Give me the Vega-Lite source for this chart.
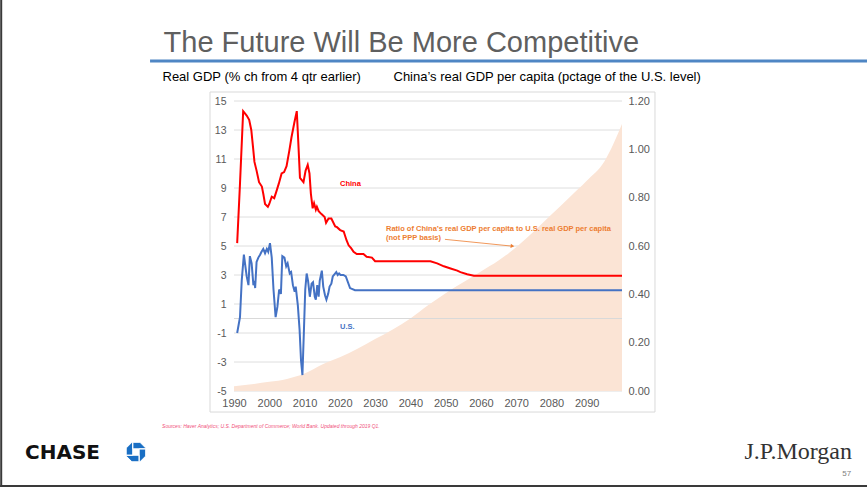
{
  "$schema": "https://vega.github.io/schema/vega-lite/v6.json",
  "autosize": {"type": "none"},
  "width": 388,
  "height": 290,
  "padding": {"left": 234, "top": 101, "right": 245, "bottom": 96},
  "background": "white",
  "config": {"view": {"stroke": null}},
  "datasets": {
    "gdp": [
      {"series":"China","year":1990.9,"value":5.2},{"series":"China","year":1991.7,"value":9.3},{"series":"China","year":1992.6,"value":14.3},{"series":"China","year":1993.6,"value":14.0},{"series":"China","year":1994.3,"value":13.7},{"series":"China","year":1994.9,"value":13.0},{"series":"China","year":1995.4,"value":11.8},{"series":"China","year":1995.8,"value":10.8},{"series":"China","year":1996.4,"value":10.2},{"series":"China","year":1997.1,"value":9.4},{"series":"China","year":1997.9,"value":9.1},{"series":"China","year":1998.3,"value":8.6},{"series":"China","year":1998.8,"value":7.9},{"series":"China","year":1999.6,"value":7.7},{"series":"China","year":2000.0,"value":7.9},{"series":"China","year":2000.7,"value":8.4},{"series":"China","year":2001.4,"value":8.3},{"series":"China","year":2002.0,"value":8.75},{"series":"China","year":2002.7,"value":9.3},{"series":"China","year":2003.5,"value":10.0},{"series":"China","year":2004.2,"value":10.1},{"series":"China","year":2004.9,"value":10.5},{"series":"China","year":2005.7,"value":11.6},{"series":"China","year":2006.3,"value":12.5},{"series":"China","year":2007.1,"value":13.5},{"series":"China","year":2007.8,"value":14.3},{"series":"China","year":2008.2,"value":12.3},{"series":"China","year":2008.7,"value":9.7},{"series":"China","year":2009.7,"value":9.4},{"series":"China","year":2010.3,"value":10.2},{"series":"China","year":2010.9,"value":10.6},{"series":"China","year":2011.4,"value":10.0},{"series":"China","year":2011.8,"value":8.6},{"series":"China","year":2012.3,"value":7.6},{"series":"China","year":2012.7,"value":7.95},{"series":"China","year":2013.2,"value":7.5},{"series":"China","year":2013.5,"value":7.7},{"series":"China","year":2014.0,"value":7.4},{"series":"China","year":2014.8,"value":7.2},{"series":"China","year":2015.7,"value":7.0},{"series":"China","year":2016.1,"value":6.6},{"series":"China","year":2016.8,"value":6.9},{"series":"China","year":2017.6,"value":6.9},{"series":"China","year":2018.7,"value":6.35},{"series":"China","year":2019.2,"value":6.3},{"series":"China","year":2020.1,"value":6.1},{"series":"China","year":2021.1,"value":6.0},{"series":"China","year":2021.9,"value":5.4},{"series":"China","year":2022.5,"value":5.05},{"series":"China","year":2023.2,"value":4.85},{"series":"China","year":2023.9,"value":4.6},{"series":"China","year":2024.8,"value":4.45},{"series":"China","year":2026.7,"value":4.45},{"series":"China","year":2027.6,"value":4.26},{"series":"China","year":2029.1,"value":4.2},{"series":"China","year":2030.0,"value":3.95},{"series":"China","year":2045.7,"value":3.95},{"series":"China","year":2047.6,"value":3.8},{"series":"China","year":2049.5,"value":3.6},{"series":"China","year":2051.4,"value":3.45},{"series":"China","year":2053.3,"value":3.3},{"series":"China","year":2054.2,"value":3.2},{"series":"China","year":2056.1,"value":3.05},{"series":"China","year":2058.0,"value":2.95},{"series":"China","year":2100,"value":2.95},
      {"series":"U.S.","year":1990.9,"value":-1.0},{"series":"U.S.","year":1991.7,"value":0.1},{"series":"U.S.","year":1992.2,"value":2.65},{"series":"U.S.","year":1992.8,"value":4.4},{"series":"U.S.","year":1993.6,"value":2.9},{"series":"U.S.","year":1994.1,"value":2.3},{"series":"U.S.","year":1994.5,"value":4.3},{"series":"U.S.","year":1995.0,"value":3.8},{"series":"U.S.","year":1995.5,"value":2.3},{"series":"U.S.","year":1995.8,"value":2.6},{"series":"U.S.","year":1996.0,"value":2.1},{"series":"U.S.","year":1996.4,"value":3.9},{"series":"U.S.","year":1996.9,"value":4.2},{"series":"U.S.","year":1997.4,"value":4.4},{"series":"U.S.","year":1997.8,"value":4.6},{"series":"U.S.","year":1998.3,"value":4.8},{"series":"U.S.","year":1998.8,"value":4.5},{"series":"U.S.","year":1999.3,"value":4.8},{"series":"U.S.","year":1999.7,"value":4.6},{"series":"U.S.","year":2000.2,"value":5.2},{"series":"U.S.","year":2000.7,"value":4.2},{"series":"U.S.","year":2001.2,"value":2.0},{"series":"U.S.","year":2001.8,"value":0.1},{"series":"U.S.","year":2002.3,"value":0.8},{"series":"U.S.","year":2002.8,"value":2.0},{"series":"U.S.","year":2003.3,"value":1.7},{"series":"U.S.","year":2003.7,"value":4.3},{"series":"U.S.","year":2004.3,"value":4.2},{"series":"U.S.","year":2004.8,"value":3.6},{"series":"U.S.","year":2005.2,"value":3.8},{"series":"U.S.","year":2005.8,"value":3.1},{"series":"U.S.","year":2006.2,"value":3.2},{"series":"U.S.","year":2006.7,"value":2.3},{"series":"U.S.","year":2007.2,"value":1.85},{"series":"U.S.","year":2007.5,"value":2.2},{"series":"U.S.","year":2008.1,"value":0.9},{"series":"U.S.","year":2008.6,"value":-0.8},{"series":"U.S.","year":2009.0,"value":-2.9},{"series":"U.S.","year":2009.4,"value":-3.9},{"series":"U.S.","year":2009.8,"value":-1.0},{"series":"U.S.","year":2010.2,"value":2.0},{"series":"U.S.","year":2010.6,"value":3.1},{"series":"U.S.","year":2011.0,"value":2.6},{"series":"U.S.","year":2011.5,"value":1.5},{"series":"U.S.","year":2012.0,"value":2.4},{"series":"U.S.","year":2012.4,"value":2.5},{"series":"U.S.","year":2012.9,"value":1.5},{"series":"U.S.","year":2013.2,"value":1.3},{"series":"U.S.","year":2013.6,"value":2.3},{"series":"U.S.","year":2014.0,"value":1.5},{"series":"U.S.","year":2014.3,"value":2.6},{"series":"U.S.","year":2014.9,"value":3.3},{"series":"U.S.","year":2015.3,"value":2.2},{"series":"U.S.","year":2015.8,"value":1.6},{"series":"U.S.","year":2016.2,"value":1.3},{"series":"U.S.","year":2016.7,"value":1.7},{"series":"U.S.","year":2017.1,"value":2.2},{"series":"U.S.","year":2017.6,"value":2.4},{"series":"U.S.","year":2018.0,"value":2.9},{"series":"U.S.","year":2019.0,"value":3.2},{"series":"U.S.","year":2019.4,"value":3.0},{"series":"U.S.","year":2019.8,"value":3.1},{"series":"U.S.","year":2020.2,"value":3.0},{"series":"U.S.","year":2021.0,"value":3.0},{"series":"U.S.","year":2021.7,"value":2.9},{"series":"U.S.","year":2022.9,"value":2.1},{"series":"U.S.","year":2024.3,"value":1.95},{"series":"U.S.","year":2100,"value":1.95}
    ],
    "ratio": [
      {"year":1990,"ratio":0.02},{"year":1995,"ratio":0.028},{"year":2000,"ratio":0.038},{"year":2005,"ratio":0.05},{"year":2010,"ratio":0.072},{"year":2015,"ratio":0.11},{"year":2020,"ratio":0.14},{"year":2025,"ratio":0.175},{"year":2030,"ratio":0.215},{"year":2035,"ratio":0.255},{"year":2040,"ratio":0.3},{"year":2045,"ratio":0.355},{"year":2050,"ratio":0.405},{"year":2055,"ratio":0.45},{"year":2060,"ratio":0.495},{"year":2065,"ratio":0.54},{"year":2070,"ratio":0.595},{"year":2075,"ratio":0.66},{"year":2080,"ratio":0.73},{"year":2085,"ratio":0.8},{"year":2090,"ratio":0.87},{"year":2095,"ratio":0.95},{"year":2100,"ratio":1.105}
    ],
    "labels": [
      {"kind":"title","year":1970.04,"value":18.41,"text":"The Future Will Be More Competitive"},
      {"kind":"china","year":2020.05,"value":9.28,"text":"China"},
      {"kind":"us","year":2020.05,"value":-0.57,"text":"U.S."},
      {"kind":"ratio","year":2033.1,"value":6.15,"text":"Ratio of China’s real GDP per capita to U.S. real GDP per capita"},
      {"kind":"ratio","year":2033.1,"value":5.53,"text":"(not PPP basis)"},
      {"kind":"source","year":1969.6,"value":-7.55,"text":"Sources: Haver Analytics; U.S. Department of Commerce; World Bank. Updated through 2019 Q1."},
      {"kind":"chase","year":1930.75,"value":-9.69,"text":"CHASE"},
      {"kind":"jpm","year":2165.2,"value":-9.69,"text":"J.P.Morgan"},
      {"kind":"page","year":2165.0,"value":-10.86,"text":"57"}
    ],
    "grid": [
      {"year":1990,"year2":2100,"value":-5},{"year":1990,"year2":2100,"value":-3},{"year":1990,"year2":2100,"value":-1},{"year":1990,"year2":2100,"value":1},{"year":1990,"year2":2100,"value":3},{"year":1990,"year2":2100,"value":5},{"year":1990,"year2":2100,"value":7},{"year":1990,"year2":2100,"value":9},{"year":1990,"year2":2100,"value":11},{"year":1990,"year2":2100,"value":13},{"year":1990,"year2":2100,"value":15}
    ],
    "rules": [
      {"kind":"blue","year":1966.2,"year2":2175,"value":17.76,"value2":17.76},
      {"kind":"arrow","year":2049.8,"year2":2068.5,"value":5.46,"value2":5.0},
      {"kind":"border","year":1924.0,"year2":1924.0,"value":21.97,"value2":-11.62},
      {"kind":"border","year":1923.7,"year2":2175,"value":-11.55,"value2":-11.55},
      {"kind":"zero","year":1990,"year2":2100,"value":0,"value2":0}
    ],
    "box": [{"year":1983.2,"year2":2109.35,"value":15.62,"value2":-6.45}],
    "points": [
      {"kind":"arrowhead","year":2068.95,"value":4.99},
      {"kind":"logo","year":1962.2,"value":-9.21}
    ]
  },
  "encoding": {
    "x": {"field": "year", "type": "quantitative", "scale": {"domain": [1990, 2100], "nice": false, "zero": false},
      "axis": {"orient": "bottom", "values": [1990,2000,2010,2020,2030,2040,2050,2060,2070,2080,2090], "labelExpr": "'' + datum.value", "labelOverlap": false, "labelFlush": false, "title": null, "domain": false, "ticks": false, "grid": false, "labelFont": "Liberation Sans", "labelFontSize": 11, "labelColor": "#595959", "labelPadding": 6}},
    "y": {"field": "value", "type": "quantitative", "scale": {"domain": [-5, 15], "nice": false, "zero": false}, "axis": null}
  },
  "layer": [
    {
      "data": {"name": "grid"},
      "mark": {"type": "rule", "color": "#dedede", "strokeWidth": 1},
      "encoding": {"x2": {"field": "year2"}}
    },
    {
      "data": {"name": "ratio"},
      "mark": {"type": "area", "color": "#fbe4d5", "opacity": 1, "interpolate": "monotone"},
      "encoding": {
        "y": {"field": "ratio", "type": "quantitative", "scale": {"domain": [0, 1.2], "nice": false},
          "axis": {"orient": "right", "values": [0,0.2,0.4,0.6,0.8,1,1.2], "format": ".2f", "title": "China’s real GDP per capita (pctage of the U.S. level)", "titleAngle": 0, "titleAlign": "left", "titleBaseline": "alphabetic", "titleX": -229, "titleY": -21, "titleFont": "Liberation Sans", "titleFontSize": 13, "titleFontWeight": "normal", "titleColor": "#000000", "domain": false, "ticks": false, "grid": false, "labelFont": "Liberation Sans", "labelFontSize": 11, "labelColor": "#595959", "labelPadding": 6}}
      }
    },
    {
      "data": {"name": "box"},
      "mark": {"type": "rect", "fill": null, "fillOpacity": 0, "stroke": "#d9d9d9", "strokeWidth": 1},
      "encoding": {"x2": {"field": "year2"}, "y2": {"field": "value2"}}
    },
    {
      "data": {"name": "rules"},
      "transform": [{"filter": "datum.kind === 'zero'"}],
      "mark": {"type": "rule", "color": "#d9d9d9", "strokeWidth": 1},
      "encoding": {"x2": {"field": "year2"}, "y2": {"field": "value2"}}
    },
    {
      "data": {"name": "gdp"},
      "mark": {"type": "line", "strokeWidth": 2},
      "encoding": {
        "y": {"field": "value", "type": "quantitative", "scale": {"domain": [-5, 15], "nice": false, "zero": false},
          "axis": {"orient": "left", "values": [-5,-3,-1,1,3,5,7,9,11,13,15], "labelExpr": "'' + datum.value", "title": "Real GDP (% ch from 4 qtr earlier)", "titleAngle": 0, "titleAlign": "left", "titleBaseline": "alphabetic", "titleX": -72, "titleY": -21, "titleFont": "Liberation Sans", "titleFontSize": 13, "titleFontWeight": "normal", "titleColor": "#000000", "domain": false, "ticks": false, "grid": false, "labelFont": "Liberation Sans", "labelFontSize": 10.5, "labelColor": "#595959", "labelPadding": 8}},
        "color": {"field": "series", "type": "nominal", "scale": {"domain": ["China", "U.S."], "range": ["#ff0000", "#4472c4"]}, "legend": null}
      }
    },
    {
      "data": {"name": "rules"},
      "transform": [{"filter": "datum.kind === 'blue'"}],
      "mark": {"type": "rule", "color": "#4f86c4", "strokeWidth": 3},
      "encoding": {"x2": {"field": "year2"}, "y2": {"field": "value2"}}
    },
    {
      "data": {"name": "rules"},
      "transform": [{"filter": "datum.kind === 'arrow'"}],
      "mark": {"type": "rule", "color": "#ed7d31", "strokeWidth": 0.8},
      "encoding": {"x2": {"field": "year2"}, "y2": {"field": "value2"}}
    },
    {
      "data": {"name": "rules"},
      "transform": [{"filter": "datum.kind === 'border'"}],
      "mark": {"type": "rule", "color": "#3a3a3a", "strokeWidth": 2},
      "encoding": {"x2": {"field": "year2"}, "y2": {"field": "value2"}}
    },
    {
      "data": {"name": "points"},
      "transform": [{"filter": "datum.kind === 'arrowhead'"}],
      "mark": {"type": "point", "shape": "triangle-right", "filled": true, "color": "#ed7d31", "size": 18, "angle": 6, "opacity": 1},
      "encoding": {}
    },
    {
      "data": {"name": "points"},
      "transform": [{"filter": "datum.kind === 'logo'"}],
      "mark": {"type": "point", "shape": "M-0.33,-1L0.414,-1L1,-0.414L1,-0.33L-0.33,-0.33ZM1,-0.33L1,0.414L0.414,1L0.33,1L0.33,-0.33ZM0.33,1L-0.414,1L-1,0.414L-1,0.33L0.33,0.33ZM-1,0.33L-1,-0.414L-0.414,-1L-0.33,-1L-0.33,0.33Z", "filled": true, "fill": "#1a6fc4", "stroke": "white", "strokeWidth": 1, "size": 380, "opacity": 1},
      "encoding": {}
    },
    {
      "data": {"name": "labels"},
      "transform": [{"filter": "datum.kind === 'title'"}],
      "mark": {"type": "text", "align": "left", "baseline": "alphabetic", "font": "Liberation Sans", "fontSize": 29, "color": "#5f5f5f"},
      "encoding": {"text": {"field": "text"}}
    },
    {
      "data": {"name": "labels"},
      "transform": [{"filter": "datum.kind === 'china'"}],
      "mark": {"type": "text", "align": "left", "baseline": "middle", "font": "Liberation Sans", "fontSize": 7.5, "fontWeight": "bold", "color": "#ff0000"},
      "encoding": {"text": {"field": "text"}}
    },
    {
      "data": {"name": "labels"},
      "transform": [{"filter": "datum.kind === 'us'"}],
      "mark": {"type": "text", "align": "left", "baseline": "middle", "font": "Liberation Sans", "fontSize": 7.5, "fontWeight": "bold", "color": "#4472c4"},
      "encoding": {"text": {"field": "text"}}
    },
    {
      "data": {"name": "labels"},
      "transform": [{"filter": "datum.kind === 'ratio'"}],
      "mark": {"type": "text", "align": "left", "baseline": "middle", "font": "Liberation Sans", "fontSize": 7.5, "fontWeight": "bold", "color": "#ed7d31"},
      "encoding": {"text": {"field": "text"}}
    },
    {
      "data": {"name": "labels"},
      "transform": [{"filter": "datum.kind === 'source'"}],
      "mark": {"type": "text", "align": "left", "baseline": "alphabetic", "font": "Liberation Sans", "fontSize": 5, "fontStyle": "italic", "color": "#f0507a"},
      "encoding": {"text": {"field": "text"}}
    },
    {
      "data": {"name": "labels"},
      "transform": [{"filter": "datum.kind === 'chase'"}],
      "mark": {"type": "text", "align": "left", "baseline": "alphabetic", "font": "DejaVu Sans", "fontSize": 20, "fontWeight": "bold", "color": "#111111"},
      "encoding": {"text": {"field": "text"}}
    },
    {
      "data": {"name": "labels"},
      "transform": [{"filter": "datum.kind === 'jpm'"}],
      "mark": {"type": "text", "align": "right", "baseline": "alphabetic", "font": "Liberation Serif", "fontSize": 24, "color": "#333333"},
      "encoding": {"text": {"field": "text"}}
    },
    {
      "data": {"name": "labels"},
      "transform": [{"filter": "datum.kind === 'page'"}],
      "mark": {"type": "text", "align": "right", "baseline": "alphabetic", "font": "Liberation Sans", "fontSize": 8, "color": "#808080"},
      "encoding": {"text": {"field": "text"}}
    }
  ],
  "resolve": {"scale": {"y": "independent"}, "axis": {"y": "independent"}}
}
